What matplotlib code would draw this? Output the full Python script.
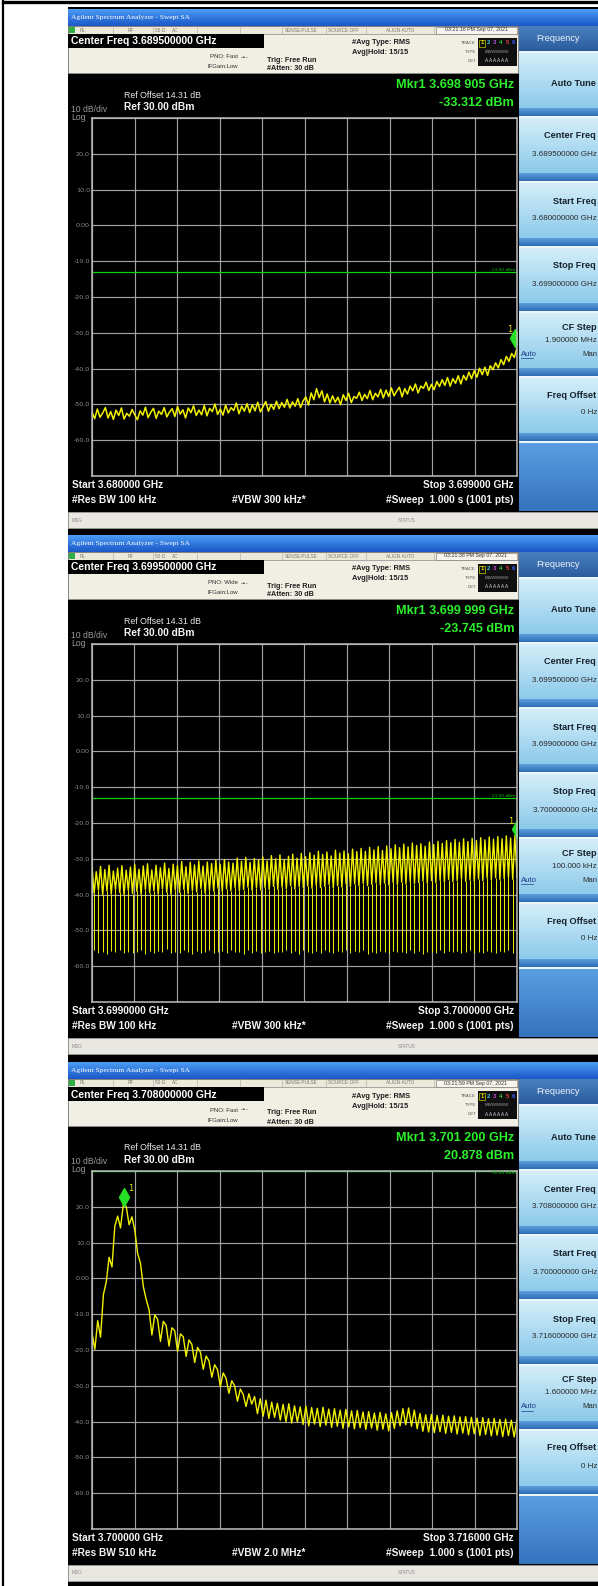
import numpy as np
from matplotlib import pyplot as plt
from matplotlib import font_manager, transforms
from matplotlib.patches import Rectangle
from matplotlib.colors import LinearSegmentedColormap

center_freq = ["3.689500000 GHz", "3.699500000 GHz", "3.708000000 GHz"]
start_ghz = [3.680, 3.699, 3.700]
stop_ghz = [3.699, 3.700, 3.716]
start_lbl = ["3.680000 GHz", "3.6990000 GHz", "3.700000 GHz"]
stop_lbl = ["3.699000 GHz", "3.7000000 GHz", "3.716000 GHz"]
start_menu = ["3.680000000 GHz", "3.699000000 GHz", "3.700000000 GHz"]
stop_menu = ["3.699000000 GHz", "3.700000000 GHz", "3.716000000 GHz"]
cf_step = ["1.900000 MHz", "100.000 kHz", "1.600000 MHz"]
rbw = ["100 kHz", "100 kHz", "510 kHz"]
vbw = ["300 kHz*", "300 kHz*", "2.0 MHz*"]
pno = ["Fast", "Wide", "Fast"]
clock = ["03:21:16 PM Sep 07, 2021", "03:21:38 PM Sep 07, 2021", "03:21:59 PM Sep 07, 2021"]
mkr_ghz = [3.698905, 3.699999, 3.701200]
mkr_lbl = ["3.698 905 GHz", "3.699 999 GHz", "3.701 200 GHz"]
mkr_dbm = [-33.312, -23.745, 20.878]
dl_dbm = [-13.0, -13.0, 30.0]
grid_db = [-70, -60, -50, -40, -30, -20, -10, 0, 10, 20, 30]
grid_lbl = ["", "-60.0", "-50.0", "-40.0", "-30.0", "-20.0", "-10.0", "0.00", "10.0", "20.0", ""]

# panel 1 trace (dBm), left to right
trace1 = [
    -52.1, -54.0, -51.3, -53.6, -52.4, -50.9, -53.8, -52.0, -54.2, -51.6,
    -53.1, -51.0, -54.1, -52.5, -53.3, -51.4, -52.9, -54.3, -51.8, -53.0,
    -50.8, -53.7, -52.2, -51.1, -53.9, -51.9, -52.8, -50.9, -53.5, -52.1,
    -51.2, -53.4, -50.6, -52.7, -51.5, -53.8, -51.0, -52.3, -50.4, -53.1,
    -51.6, -52.9, -50.3, -53.2, -51.1, -52.0, -49.9, -52.8, -51.3, -53.0,
    -50.2, -52.4, -50.9, -51.7, -49.6, -52.6, -50.5, -51.9, -49.8, -52.3,
    -50.1, -51.8, -49.4, -52.1, -50.6, -49.2, -51.9, -50.0, -51.4, -49.1,
    -51.2, -49.5, -50.8, -48.6, -51.0, -49.3, -50.5, -48.4, -50.9, -49.0,
    -47.9, -50.2, -46.8, -48.7, -45.6, -48.1, -46.2, -49.3, -47.1, -49.6,
    -47.6, -49.4, -48.0, -50.1, -47.3, -48.9, -46.9, -49.5, -47.8, -48.3,
    -46.6, -48.9, -47.2, -48.4, -46.1, -48.7, -46.9, -47.9, -45.8, -48.2,
    -46.0, -47.8, -45.4, -47.6, -46.3, -45.2, -47.9, -45.6, -47.1, -44.9,
    -46.2, -44.3, -46.8, -44.9, -45.5, -43.8, -46.1, -44.4, -45.9, -43.6,
    -45.0, -43.1, -44.7, -42.5, -44.9, -42.8, -44.1, -42.0, -44.3, -41.9,
    -43.2, -41.0, -42.8, -40.6, -42.4, -39.9, -41.7, -39.6, -41.9, -39.2,
    -40.3, -38.4, -39.8, -37.5, -38.9, -36.6, -38.0, -35.8, -36.9, -34.2,
]

# panel 2 trace: per sweep cell the band top, band bottom and the notch floor
trace2_top = [
    -32.4, -33.6, -32.1, -33.0, -31.8, -33.4, -32.6, -31.9, -33.2, -32.3,
    -31.6, -32.9, -32.0, -31.4, -33.1, -31.8, -32.5, -31.2, -32.7, -31.5,
    -31.9, -30.8, -32.2, -31.0, -31.7, -30.6, -32.0, -30.9, -31.3, -30.4,
    -31.5, -30.2, -30.9, -31.2, -29.8, -30.7, -29.6, -31.0, -29.9, -30.3,
    -29.5, -30.6, -29.1, -30.0, -28.9, -30.2, -29.3, -28.7, -29.8, -28.5,
    -29.4, -28.3, -29.0, -27.9, -28.8, -28.1, -29.2, -27.6, -28.4, -27.8,
    -28.6, -27.3, -28.0, -27.1, -27.9, -26.8, -27.5, -26.6, -27.7, -26.4,
    -27.2, -26.1, -26.9, -25.9, -26.7, -25.6, -26.3, -25.8, -26.5, -25.3,
    -26.0, -25.1, -25.7, -24.9, -25.5, -24.6, -25.4, -24.4, -25.2, -24.3,
    -24.9, -24.1, -24.7, -23.9, -24.5, -23.8, -24.4, -23.6, -24.2, -23.5,
]
trace2_low = [
    -39.6, -38.7, -40.1, -39.0, -39.8, -38.5, -39.4, -40.0, -38.8, -39.7,
    -39.1, -39.9, -38.6, -39.5, -38.9, -39.8, -38.4, -39.3, -39.9, -38.7,
    -39.4, -38.5, -39.7, -38.9, -39.2, -38.3, -39.6, -38.8, -39.0, -38.2,
    -39.1, -38.4, -38.9, -38.0, -39.0, -38.6, -37.9, -38.8, -38.1, -38.7,
    -38.0, -38.6, -37.7, -38.5, -37.9, -38.3, -37.5, -38.4, -37.8, -38.1,
    -37.6, -38.2, -37.4, -38.0, -37.7, -37.2, -38.1, -37.5, -37.9, -37.1,
    -37.8, -37.0, -37.6, -36.9, -37.5, -37.1, -36.7, -37.4, -36.8, -37.3,
    -36.6, -37.2, -36.5, -37.0, -36.3, -36.9, -36.6, -36.2, -36.8, -36.1,
    -36.7, -36.0, -36.5, -35.8, -36.4, -36.1, -35.7, -36.3, -35.9, -36.2,
    -35.6, -36.1, -35.4, -35.9, -35.3, -35.8, -35.5, -35.2, -35.7, -35.1,
]
trace2_dip = [
    -55.6, -56.3, -55.9, -56.5, -55.8, -56.1, -55.4, -56.4, -55.9, -56.2,
    -56.0, -55.5, -56.6, -55.8, -56.3, -55.7, -56.1, -55.3, -56.4, -55.9,
    -56.2, -55.6, -56.0, -56.5, -55.7, -56.3, -55.9, -55.5, -56.2, -56.0,
    -55.8, -56.4, -55.6, -56.1, -55.9, -56.6, -55.4, -56.2, -55.8, -56.3,
    -56.1, -55.7, -56.4, -55.9, -56.0, -55.5, -56.3, -55.8, -56.5, -55.6,
    -55.9, -56.2, -55.7, -56.4, -55.6, -56.0, -56.3, -55.8, -56.1, -55.5,
    -56.3, -55.8, -56.0, -55.6, -56.5, -55.9, -56.2, -55.7, -56.0, -56.4,
    -55.7, -56.1, -55.9, -56.3, -55.5, -56.2, -55.8, -56.5, -55.9, -56.0,
    -56.2, -55.6, -56.4, -55.8, -56.1, -55.7, -56.3, -55.9, -55.6, -56.2,
    -55.9, -56.3, -55.7, -56.0, -56.4, -55.8, -56.1, -55.6, -56.3, -55.8,
]

# panel 3 trace (dBm), left to right
trace3 = [
    -15.2, -19.8, -11.8, -16.4, -4.5, -1.0, 5.9, 3.2, 14.6, 17.4,
    14.1, 20.8, 20.1, 15.0, 17.2, 13.5, 7.0, 4.2, -2.3, -5.9,
    -8.7, -15.8, -10.2, -11.4, -17.6, -12.0, -13.1, -18.9, -13.8, -14.6,
    -20.4, -15.5, -16.3, -21.8, -17.2, -18.4, -23.5, -19.3, -20.6, -25.4,
    -21.7, -23.0, -27.6, -24.1, -25.5, -30.2, -26.4, -27.9, -32.1, -28.6,
    -30.0, -34.3, -30.9, -32.4, -35.8, -32.2, -35.1, -33.0, -37.8, -33.6,
    -38.5, -34.0, -39.1, -34.6, -38.8, -34.9, -39.6, -35.2, -40.0, -35.0,
    -40.4, -35.6, -40.1, -35.9, -40.8, -35.7, -41.2, -36.1, -40.7, -36.3,
    -41.4, -36.0, -41.0, -36.5, -41.6, -36.4, -41.3, -36.8, -41.9, -36.6,
    -41.5, -37.0, -42.0, -36.9, -41.7, -37.3, -42.2, -37.2, -41.8, -37.6,
    -42.4, -37.4, -42.1, -37.8, -42.6, -37.5, -41.9, -37.0, -41.2, -36.4,
    -40.9, -36.2, -41.3, -36.8, -42.0, -37.7, -42.7, -38.1, -42.9, -38.0,
    -43.1, -38.3, -42.8, -38.2, -43.3, -38.5, -43.0, -38.4, -43.5, -38.7,
    -43.2, -38.6, -43.7, -38.8, -43.4, -39.0, -43.9, -38.9, -43.6, -39.2,
    -44.0, -39.1, -43.8, -39.4, -44.2, -39.3, -43.9, -39.6, -44.3, -39.5,
]

# ---- layout (pixels) ----
W, H = 598, 1586
tops = [9, 535, 1062]
SX = 68            # screen left edge
MX = 519           # soft-key menu left edge
PX0, PX1 = 92, 517 # graticule
SANS = 'Liberation Sans'
installed = {f.name for f in font_manager.fontManager.ttflist}
NARROW = 'Liberation Sans Narrow' if 'Liberation Sans Narrow' in installed else SANS
nk = 1.0 if NARROW != SANS else 0.8
YEL = '#f2f200'

fig = plt.figure(figsize=(W / 100, H / 100), dpi=100)
fig.patch.set_facecolor('white')
bg = fig.add_axes([0, 0, 1, 1])
bg.axis('off')


def box(x, y, w, h, fc, ec='none', lw=0, z=1):
    bg.add_patch(Rectangle((x, y), w, h, facecolor=fc, edgecolor=ec, linewidth=lw, zorder=z))


def grad(x, y, w, h, c0, c1, z=1):
    cm = LinearSegmentedColormap.from_list('g', [c0, c1])
    bg.imshow(np.linspace(0, 1, 64)[:, None], cmap=cm, extent=(x, x + w, y + h, y),
              aspect='auto', interpolation='bilinear', zorder=z)


def txt(x, y, s, size, color, bold=False, ha='left', fam=SANS, z=3):
    bg.text(x, y, s, fontsize=size, color=color, fontweight='bold' if bold else 'normal',
            ha=ha, va='center', family=fam, zorder=z)


# page frame
bg.plot([3, 3], [0, H], color='black', lw=1.6, zorder=5)
bg.plot([3, W], [2, 2], color='black', lw=2.4, zorder=5)

for k, T in enumerate(tops):
    box(SX, T - 2, W - SX, 528, 'black', z=0.5)

    # title bar
    grad(SX, T, W - SX, 17, '#4c9cf4', '#1a58c8')
    txt(71, T + 8.5, 'Agilent Spectrum Analyzer - Swept SA', 5.4, 'white', fam='Liberation Serif')

    # status row
    box(SX, T + 17, MX - SX - 1, 8, '#ece8da', '#8c8c8c', 0.4)
    box(69, T + 18, 6, 6, '#2fae44', z=2)
    for sx in [113, 153, 197, 240, 282, 326, 366, 434]:
        bg.plot([sx, sx], [T + 17, T + 25], color='#a9a79e', lw=0.4, zorder=2)
    for sx, s in [(80, 'RL'), (128, 'RF'), (155, '50 \u03a9'), (172, 'AC'),
                  (285, 'SENSE:PULSE'), (328, 'SOURCE OFF'), (386, 'ALIGN AUTO')]:
        txt(sx, T + 21, s, 3.4, '#7a786f')
    box(436, T + 17.5, 81, 7, '#f6f4ec', '#6a6a6a', 0.4, z=2)
    txt(476, T + 21, clock[k], 3.8, '#333333', ha='center')

    # setup info area
    box(SX, T + 25, MX - SX - 1, 39, '#f1eee4', '#9a9a9a', 0.4)
    box(SX, T + 25, 196, 14, 'black', z=2)
    txt(71, T + 32.5, 'Center Freq ' + center_freq[k], 7.5, 'white', bold=True)
    txt(238, T + 48, 'PNO: ' + pno[k], 4.3, '#303030', ha='right', fam=NARROW)
    txt(241, T + 48, '-\u2022-', 4.3, '#303030', fam='DejaVu Sans')
    txt(238, T + 58, 'IFGain:Low', 4.3, '#303030', ha='right', fam=NARROW)
    txt(267, T + 51, 'Trig: Free Run', 5.2, '#202020', bold=True, fam=NARROW)
    txt(267, T + 60, '#Atten: 30 dB', 5.2, '#202020', bold=True, fam=NARROW)
    txt(352, T + 34, '#Avg Type: RMS', 5.4, '#202020', bold=True, fam=NARROW)
    txt(352, T + 44, 'Avg|Hold: 15/15', 5.4, '#202020', bold=True, fam=NARROW)
    for ty, s in [(T + 34, 'TRACE'), (T + 43, 'TYPE'), (T + 52, 'DET')]:
        txt(476, ty, s, 3.2, '#555555', ha='right')
    box(478, T + 29, 39, 28, '#101010', z=2)
    box(479, T + 30.5, 6, 7, 'none', '#c8c800', 0.5, z=2)
    for i, c in enumerate(['#e6e600', '#38c8f0', '#c050e0', '#30d030', '#e04040', '#4060ff']):
        txt(482 + 6.3 * i, T + 34, str(i + 1), 4.2, c, bold=True, ha='center')
    txt(497, T + 43, 'MWWWWW', 3.2, '#9a9a9a', ha='center')
    txt(497, T + 52, 'A A A A A A', 3.4, '#d8d8d8', ha='center')

    # reference / marker readouts
    txt(124, T + 86, 'Ref Offset 14.31 dB', 6.3, '#e8e8e8')
    txt(124, T + 98, 'Ref 30.00 dBm', 7.4, '#f4f4f4', bold=True)
    txt(71, T + 100, '10 dB/div', 6.2, '#9a9a9a')
    txt(71, T + 108, 'Log', 6.2, '#9a9a9a')
    txt(514, T + 76, 'Mkr1 ' + mkr_lbl[k], 11.4 * nk, '#2cf02c', bold=True, ha='right', fam=NARROW)
    txt(514, T + 94, f'{mkr_dbm[k]:.3f} dBm', 11.4 * nk, '#2cf02c', bold=True, ha='right', fam=NARROW)

    # bottom annotation
    txt(72, T + 476, 'Start ' + start_lbl[k], 7.3, '#f4f4f4', bold=True)
    txt(514, T + 476, 'Stop ' + stop_lbl[k], 7.3, '#f4f4f4', bold=True, ha='right')
    txt(72, T + 491, '#Res BW ' + rbw[k], 7.3, '#f4f4f4', bold=True)
    txt(232, T + 491, '#VBW ' + vbw[k], 7.3, '#f4f4f4', bold=True)
    txt(514, T + 491, '#Sweep  1.000 s (1001 pts)', 7.3, '#f4f4f4', bold=True, ha='right')

    # message bar
    box(SX, T + 503, W - SX, 16, '#e9e7e1', '#a8a8a8', 0.5)
    txt(72, T + 511, 'MSG', 3.4, '#8a8a8a')
    txt(398, T + 511, 'STATUS', 3.4, '#8a8a8a')

    # soft-key menu
    grad(MX, T + 17, W - MX, 25, '#4a7fbe', '#2b5d9e')
    txt(558, T + 29.5, 'Frequency', 6.6, '#eef4fb', ha='center')
    box(MX, T + 42, W - MX, 392, '#eaf6fc')
    for j in range(6):
        by = T + 44 + 65 * j
        grad(MX, by, W - MX, 55, '#d4eef9', '#8ccaea')
        grad(MX, by + 55, W - MX, 8, '#5d9fdc', '#2c6cb4')
    grad(MX, T + 434, W - MX, 68, '#5a9ee0', '#3574bf')
    m = T + 44
    txt(596, m + 31, 'Auto Tune', 8.2 * nk, '#16212c', bold=True, ha='right', fam=NARROW)
    txt(596, m + 65 + 18, 'Center Freq', 8.2 * nk, '#16212c', bold=True, ha='right', fam=NARROW)
    txt(597, m + 65 + 36, center_freq[k], 5.8, '#2a2a2a', ha='right')
    txt(596, m + 130 + 18, 'Start Freq', 8.2 * nk, '#16212c', bold=True, ha='right', fam=NARROW)
    txt(597, m + 130 + 36, start_menu[k], 5.8, '#2a2a2a', ha='right')
    txt(596, m + 195 + 18, 'Stop Freq', 8.2 * nk, '#16212c', bold=True, ha='right', fam=NARROW)
    txt(597, m + 195 + 36, stop_menu[k], 5.8, '#2a2a2a', ha='right')
    txt(596, m + 260 + 14, 'CF Step', 8.2 * nk, '#16212c', bold=True, ha='right', fam=NARROW)
    txt(597, m + 260 + 27, cf_step[k], 5.8, '#2a2a2a', ha='right')
    txt(521, m + 260 + 41, 'Auto', 5.6, '#1a3a8a')
    bg.plot([521, 533], [m + 260 + 45, m + 260 + 45], color='#1a3a8a', lw=0.5, zorder=3)
    txt(597, m + 260 + 41, 'Man', 5.6, '#2a2a2a', ha='right')
    txt(596, m + 325 + 17, 'Freq Offset', 8.2 * nk, '#16212c', bold=True, ha='right', fam=NARROW)
    txt(597, m + 325 + 35, '0 Hz', 5.8, '#2a2a2a', ha='right')

    # graticule and trace
    ax = fig.add_axes([PX0 / W, 1 - (T + 467) / H, (PX1 - PX0) / W, 358 / H])
    ax.set_facecolor('black')
    ax.set_xlim(start_ghz[k], stop_ghz[k])
    ax.set_ylim(grid_db[0], grid_db[-1])
    ax.set_xticks(np.linspace(start_ghz[k], stop_ghz[k], 11))
    ax.set_yticks(grid_db)
    ax.set_yticklabels(grid_lbl)
    ax.tick_params(length=0, labelbottom=False, labelsize=4.6, labelcolor='#8c8c8c', pad=1.5)
    ax.grid(True, color='#a2a2a2', lw=0.85)
    ax.set_axisbelow(True)
    for s in ax.spines.values():
        s.set_color('#bcbcbc')
        s.set_linewidth(1.1)

    if k == 1:
        band = np.column_stack([trace2_top, trace2_low]).ravel()
        xb = np.linspace(start_ghz[k], stop_ghz[k], len(band))
        ax.plot(xb, band, color=YEL, lw=1.0)
        ax.vlines(xb[1::2], trace2_dip, trace2_low, color=YEL, lw=0.7)
    else:
        y = np.array(trace1 if k == 0 else trace3)
        x = np.linspace(start_ghz[k], stop_ghz[k], len(y))
        ax.plot(x, y, color=YEL, lw=1.1 if k == 0 else 1.0)

    ax.axhline(dl_dbm[k], color='#12d012', lw=0.9 if k < 2 else 1.6)
    tr = transforms.blended_transform_factory(ax.transAxes, ax.transData)
    ax.text(0.997, dl_dbm[k], f'{dl_dbm[k]:.2f} dBm', transform=tr, ha='right',
            va='bottom' if k < 2 else 'top', fontsize=3.2, color='#10c010')

    off = transforms.offset_copy(ax.transData, fig=fig, x=0, y=5, units='points')
    ax.plot(mkr_ghz[k], mkr_dbm[k], marker='d', ms=9, color='#26e026', transform=off)
    ax.annotate('1', (mkr_ghz[k], mkr_dbm[k]), xytext=(-4 if k < 2 else 5, 11),
                textcoords='offset points', color='#e4e400', fontsize=6, ha='center', va='center')

bg.set_xlim(0, W)
bg.set_ylim(H, 0)
fig.savefig('out.png', dpi=100)
